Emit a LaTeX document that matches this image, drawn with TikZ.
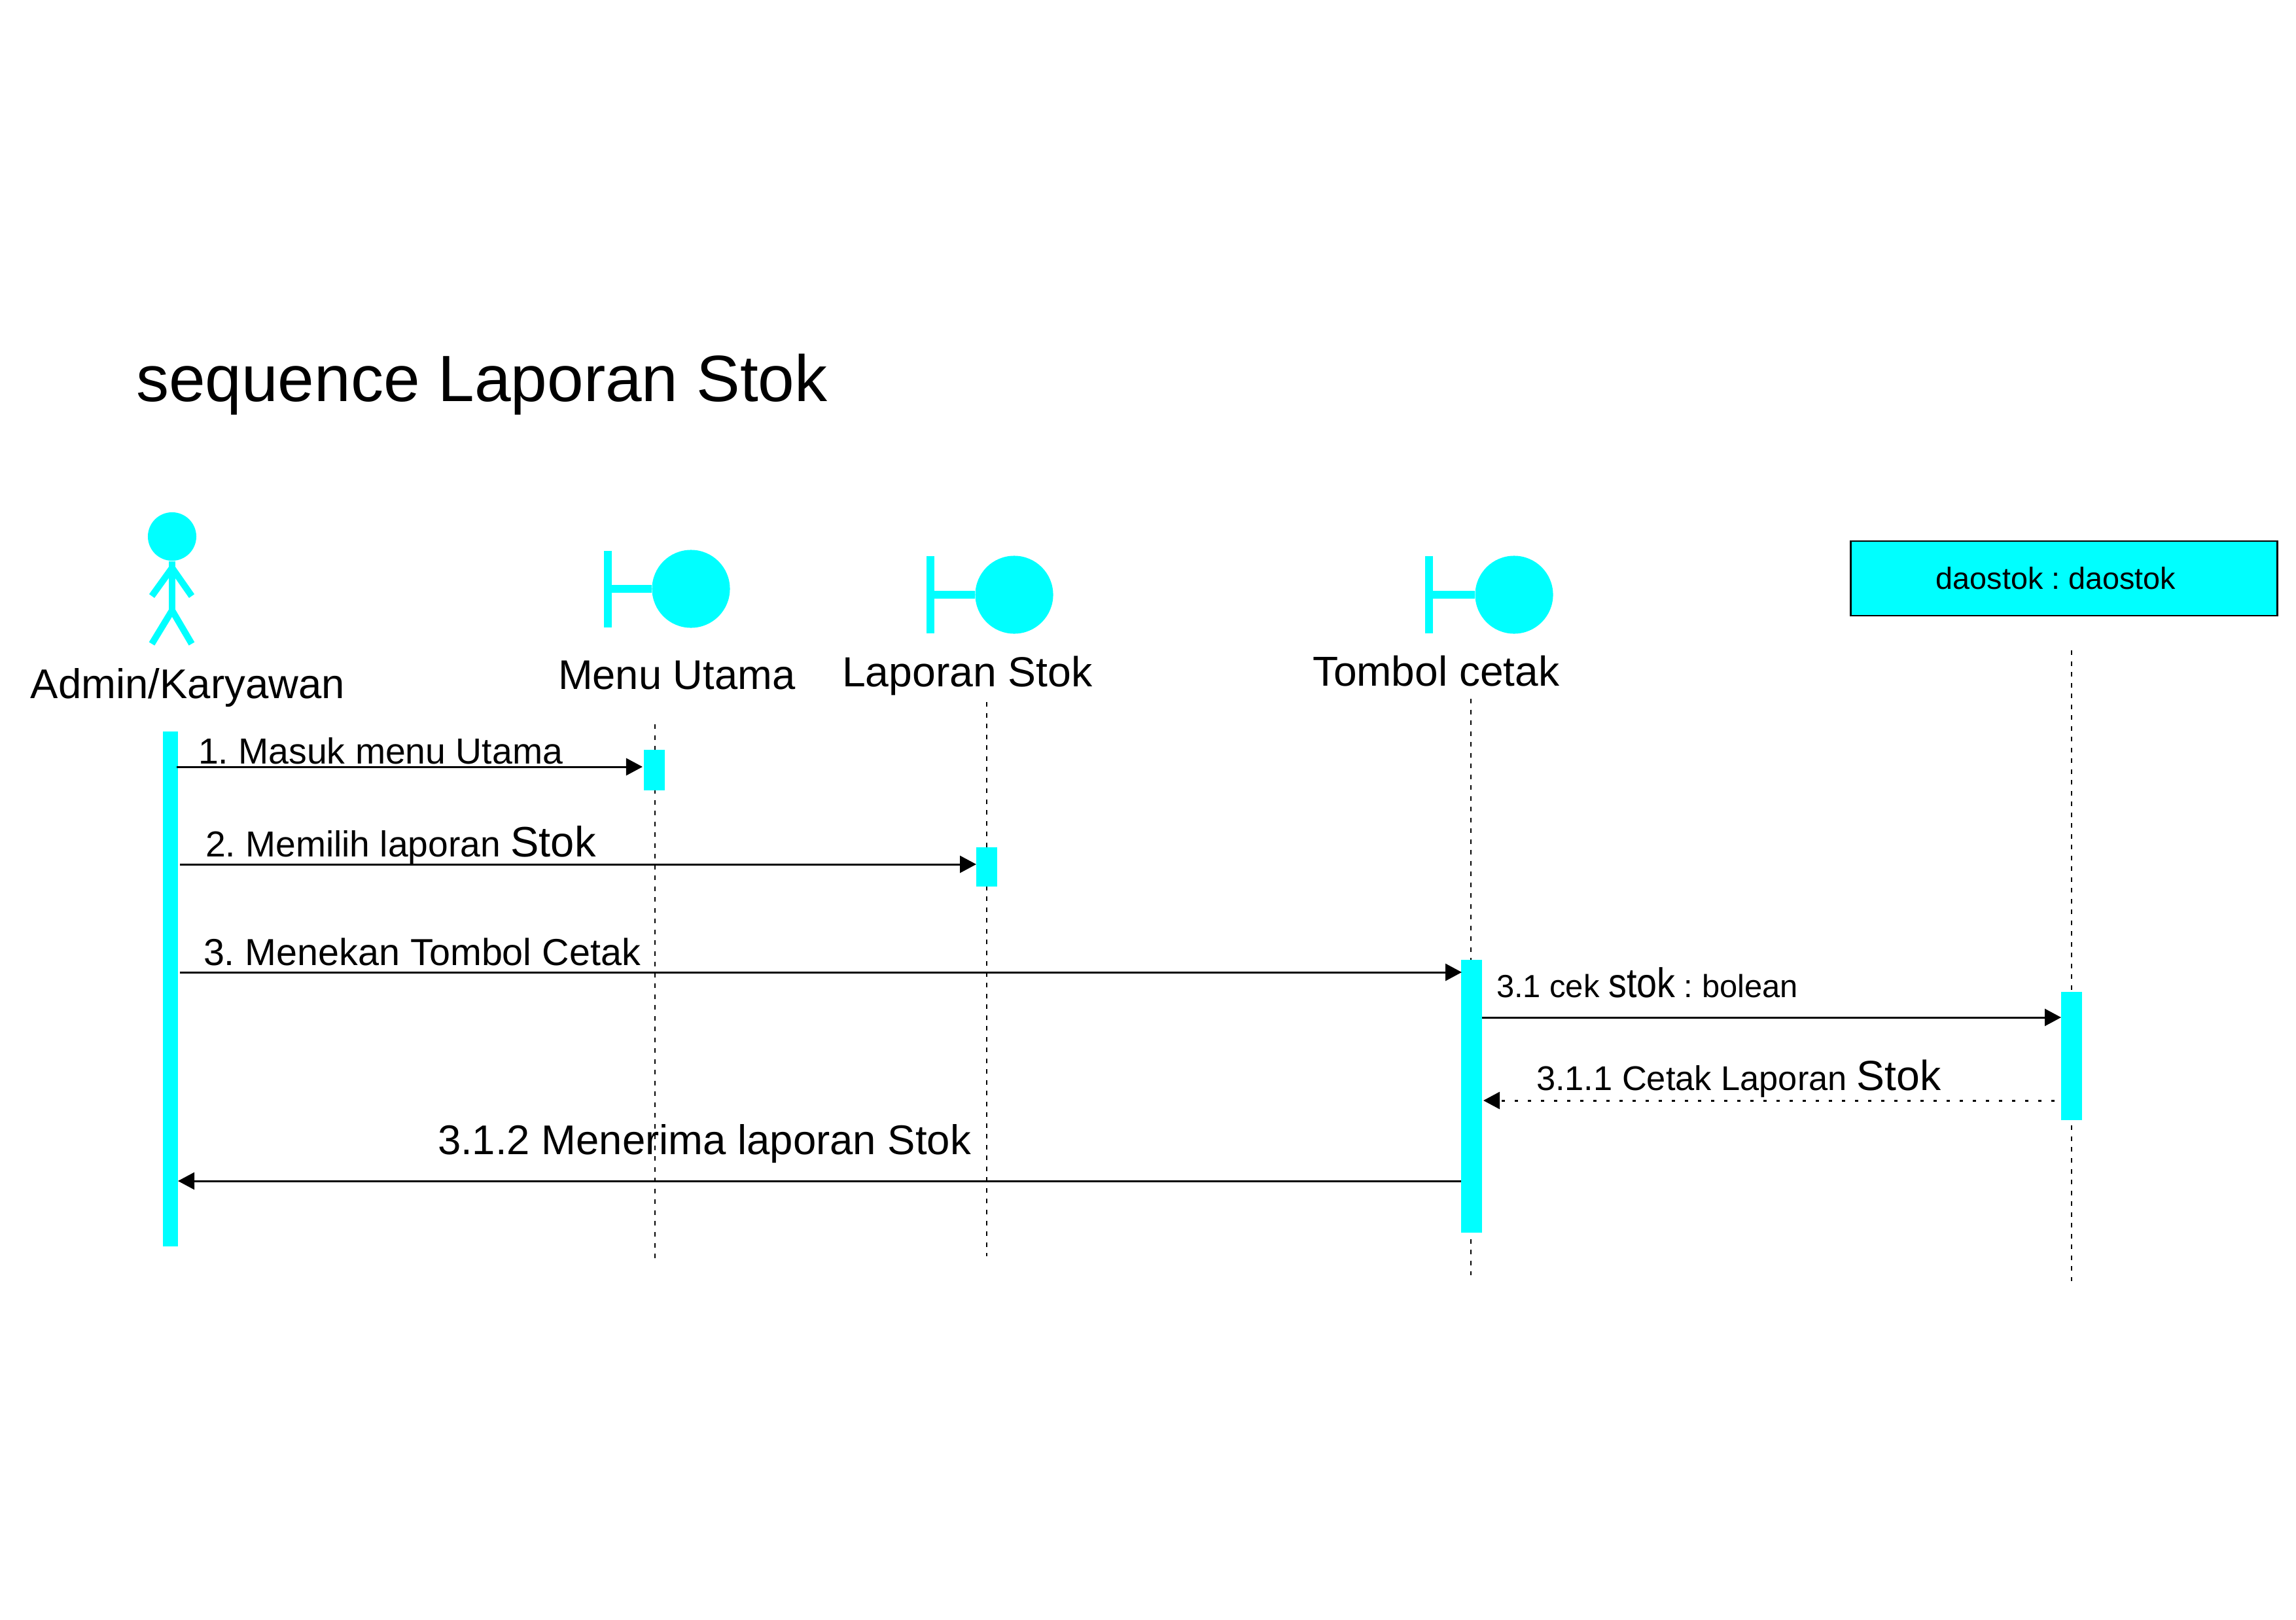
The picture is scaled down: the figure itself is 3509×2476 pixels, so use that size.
\documentclass[tikz,border=0pt]{standalone}
\usepackage{graphicx}
\usepackage{fontspec}
\setmainfont{Liberation Sans}
\usetikzlibrary{arrows.meta}
\AtBeginDocument{\frenchspacing}
\definecolor{aqua}{HTML}{00FFFF}
\newcommand{\fsz}[1]{\fontsize{#1}{#1}\selectfont}
\tikzset{
  lbl/.style={anchor=base west,inner sep=0pt,outer sep=0pt},
  figure/.style={draw=aqua,line width=0.1cm},
  bbar/.style={draw=aqua,line width=0.12cm},
  bball/.style={circle,fill=aqua,inner sep=0pt,minimum size=1.19cm},
  act/.style={rectangle,fill=aqua,inner sep=0pt,minimum width=#1*0.01cm},
  life/.style={draw=black,line width=0.025cm,dash pattern=on 0.07cm off 0.095cm},
  msg/.style={draw=black,line width=0.03cm,-{Triangle[length=0.25cm,width=0.26cm]}},
  ret/.style={msg,dash pattern=on 0.05cm off 0.15cm}
}
\begin{document}
\begin{tikzpicture}[x=0.01cm,y=-0.01cm]
\useasboundingbox (0,0) rectangle (3509,2476);
% title
\node[lbl,font=\fsz{28.45}] (title) at (208,613) {sequence Laporan Stok};

% lifeline ends
\coordinate (mT) at (1001,1107); \coordinate (mB) at (1001,1925);
\coordinate (lT) at (1508,1073); \coordinate (lB) at (1508,1920);
\coordinate (tT) at (2248,1068); \coordinate (tB) at (2248,1949);
\coordinate (dT) at (3166,994);  \coordinate (dB) at (3166,1958);
\draw[life] (mT) -- (mB);
\draw[life] (lT) -- (lB);
\draw[life] (tT) -- (tB);
\draw[life] (dT) -- (dB);

% actor
\node[circle,fill=aqua,inner sep=0pt,minimum size=0.74cm] (head) at (263,820) {};
\coordinate (neck) at (263,868); \coordinate (hip) at (263,933);
\coordinate (handL) at (232,911); \coordinate (handR) at (293,911);
\coordinate (footL) at (232,984); \coordinate (footR) at (293,984);
\draw[figure] (head) -- (hip);
\draw[figure] (handL) -- (neck) -- (handR);
\draw[figure] (footL) -- (hip) -- (footR);
\node[lbl,font=\fsz{18.05}] (adminL) at (47,1067) {Admin/Karyawan};

% boundaries
\node[bball] (menuB) at (1056,900) {};
\coordinate (menuT) at (929,842); \coordinate (menuU) at (929,959); \coordinate (menuM) at (929,900);
\draw[bbar] (menuT) -- (menuU); \draw[bbar] (menuM) -- (menuB);
\node[lbl,font=\fsz{18}] (menuL) at (853,1053) {Menu Utama};

\node[bball] (lapB) at (1550,909) {};
\coordinate (lapT) at (1422,850); \coordinate (lapU) at (1422,968); \coordinate (lapM) at (1422,909);
\draw[bbar] (lapT) -- (lapU); \draw[bbar] (lapM) -- (lapB);
\node[lbl,font=\fsz{18.3}] (lapL) at (1287,1049) {Laporan Stok};

\node[bball] (tomB) at (2314,909) {};
\coordinate (tomT) at (2184,850); \coordinate (tomU) at (2184,968); \coordinate (tomM) at (2184,909);
\draw[bbar] (tomT) -- (tomU); \draw[bbar] (tomM) -- (tomB);
\node[lbl,font=\fsz{18.2}] (tomL) at (2006,1048) {Tombol cetak};

% object box
\node[draw=black,line width=0.025cm,fill=aqua,rectangle,inner sep=0pt,minimum width=6.52cm,minimum height=1.14cm] (dao) at (3154.5,884) {};
\node[anchor=center,inner sep=0pt,font=\fsz{13.3}] (daoL) at (3142,884) {daostok : daostok};

% activations
\node[act=23,minimum height=7.87cm] (aA) at (260.5,1511.5) {};
\node[act=32,minimum height=0.62cm] (aM) at (1000,1177) {};
\node[act=32,minimum height=0.60cm] (aL) at (1508,1325) {};
\node[act=32,minimum height=4.17cm] (aT) at (2249,1675.5) {};
\node[act=32,minimum height=1.96cm] (aD) at (3166,1614) {};

% messages
\coordinate (m1s) at (270,1172); \coordinate (m1e) at (982,1172);
\coordinate (m2s) at (275,1321); \coordinate (m2e) at (1492,1321);
\coordinate (m3s) at (275,1486); \coordinate (m3e) at (2234,1486);
\coordinate (m4s) at (2265,1555); \coordinate (m4e) at (3150,1555);
\coordinate (m5s) at (3140,1682); \coordinate (m5e) at (2267,1682);
\coordinate (m6s) at (2233,1805); \coordinate (m6e) at (272,1805);
\draw[msg] (m1s) -- (m1e);
\draw[msg] (m2s) -- (m2e);
\draw[msg] (m3s) -- (m3e);
\draw[msg] (m4s) -- (m4e);
\draw[ret] (m5s) -- (m5e);
\draw[msg] (m6s) -- (m6e);

\node[lbl,font=\fsz{15.75}] (l1) at (303,1167) {1. Masuk menu Utama};
\node[lbl,font=\fsz{15.7}] (l2) at (314,1309) {2. Memilih laporan {\fsz{18.5}Stok}};
\node[lbl,font=\fsz{16.35}] (l3) at (311,1475) {3. Menekan Tombol Cetak};
\node[lbl,font=\fsz{13.9}] (l4) at (2287,1524) {3.1 cek \scalebox{0.88}[1]{\fsz{18}stok} : bolean};
\node[lbl,font=\fsz{14.9}] (l5) at (2348,1666) {3.1.1 Cetak Laporan {\fsz{18.3}Stok}};
\node[lbl,font=\fsz{18.05}] (l6) at (669,1764) {3.1.2 Menerima laporan Stok};
\end{tikzpicture}
\end{document}
